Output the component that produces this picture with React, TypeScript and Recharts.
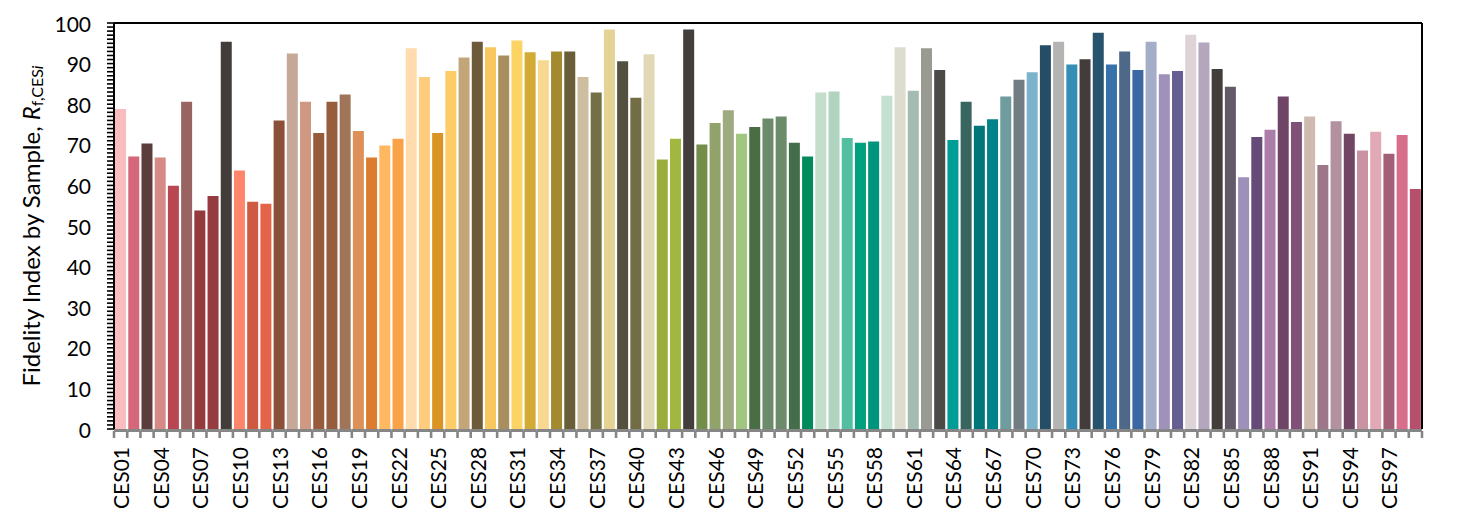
import React from "react";
import { BarChart, Bar, XAxis, YAxis, Cell, Label } from "recharts";

const categories = [
  "CES01","CES02","CES03","CES04","CES05","CES06","CES07","CES08","CES09","CES10",
  "CES11","CES12","CES13","CES14","CES15","CES16","CES17","CES18","CES19","CES20",
  "CES21","CES22","CES23","CES24","CES25","CES26","CES27","CES28","CES29","CES30",
  "CES31","CES32","CES33","CES34","CES35","CES36","CES37","CES38","CES39","CES40",
  "CES41","CES42","CES43","CES44","CES45","CES46","CES47","CES48","CES49","CES50",
  "CES51","CES52","CES53","CES54","CES55","CES56","CES57","CES58","CES59","CES60",
  "CES61","CES62","CES63","CES64","CES65","CES66","CES67","CES68","CES69","CES70",
  "CES71","CES72","CES73","CES74","CES75","CES76","CES77","CES78","CES79","CES80",
  "CES81","CES82","CES83","CES84","CES85","CES86","CES87","CES88","CES89","CES90",
  "CES91","CES92","CES93","CES94","CES95","CES96","CES97","CES98","CES99",
];

const fidelity = [
  78.8, 67.1, 70.3, 66.9, 59.9, 80.6, 53.8, 57.4, 95.4, 63.7,
  56.0, 55.5, 76.0, 92.5, 80.6, 72.9, 80.6, 82.4, 73.4, 66.9,
  69.8, 71.5, 93.8, 86.7, 72.9, 88.2, 91.5, 95.4, 94.0, 92.0,
  95.7, 92.8, 90.8, 93.0, 93.0, 86.7, 82.9, 98.4, 90.6, 81.6,
  92.3, 66.4, 71.5, 98.4, 70.1, 75.4, 78.5, 72.7, 74.4, 76.5,
  77.0, 70.5, 67.1, 82.9, 83.1, 71.7, 70.5, 70.8, 82.1, 94.0,
  83.3, 93.8, 88.4, 71.2, 80.6, 74.7, 76.3, 81.9, 86.0, 87.9,
  94.5, 95.4, 89.8, 91.1, 97.6, 89.8, 93.0, 88.4, 95.4, 87.4,
  88.2, 97.1, 95.2, 88.7, 84.3, 62.0, 71.9, 73.7, 81.9, 75.6,
  77.0, 65.0, 75.8, 72.7, 68.6, 73.2, 67.8, 72.4, 59.1,
];

const barColors = [
  "#FBBCC0","#D4677A","#5C3D3C","#D68A87","#B84752","#986360","#94393C","#963C40","#423D3A","#FF866A",
  "#CE5A42","#E4644A","#8C5038","#C6A898","#CF9883","#975A3A","#975E3D","#A07458","#DD9158","#DA7D2E",
  "#FDB861","#F9A247","#FFDBAD","#FECC7C","#DB9423","#FDCB67","#C2A67A","#6C5A38","#F9C760","#A88F5D",
  "#FCD464","#D2AB35","#F7D891","#A38A2E","#695E38","#CEBEA0","#747046","#E4D394","#545040","#736D45",
  "#E1D9B6","#9AAD3C","#A2B73F","#433E3C","#728E48","#91A26A","#9EAA80","#A1C680","#4A6E43","#6C8B6A",
  "#6B8B6A","#446D4A","#008A5D","#C3DECB","#B0D4C0","#53BFA0","#009F7E","#00947D","#C3E0D0","#DCDCCF",
  "#A3BBB1","#999B93","#4B4A47","#009C96","#396560","#00757A","#00838A","#6F9C9F","#717D83","#7DB3CA",
  "#264D66","#B4B4B3","#358EB6","#423C3A","#27536C","#3772AA","#4E6888","#3B67A2","#A5AEC8","#9F91B9",
  "#655E92","#DED4D8","#B4A6BD","#433E3A","#645968","#9D91B9","#664B78","#AC7DA8","#704466","#805079",
  "#CFBAB2","#9D7789","#B4919E","#704663","#CA93A3","#E1A8B6","#A35F76","#D66E8C","#B64F6B",
];

const yTickLabels = [0, 10, 20, 30, 40, 50, 60, 70, 80, 90, 100];
const yMinorTicks = Array.from({ length: 101 }, (_, i) => i);

const data = categories.map((name, i) => ({ name, value: fidelity[i] }));

const FONT = "Lato, 'Open Sans', sans-serif";
const AXIS_GRAY = "#868686";

function XTick(props: any) {
  const { x, y, payload } = props;
  const i = payload?.index ?? props.index ?? 0;
  const half = payload?.offset ?? 6.6;
  const showLabel = i % 3 === 0;
  return (
    <g>
      <line x1={x - half} x2={x + half} y1={y + 1.5} y2={y + 1.5} stroke={AXIS_GRAY} strokeWidth={3} />
      <line x1={x - half} x2={x - half} y1={y + 2} y2={y + 9} stroke={AXIS_GRAY} strokeWidth={2.6} />
      {i === categories.length - 1 && (
        <line x1={x + half} x2={x + half} y1={y + 2} y2={y + 9} stroke={AXIS_GRAY} strokeWidth={2.6} />
      )}
      {showLabel && (
        <text
          transform={`translate(${x},${y + 18}) rotate(-90)`}
          textAnchor="end"
          dominantBaseline="central"
          fontFamily={FONT}
          fontSize={21}
          fill="#000"
        >
          {payload.value}
        </text>
      )}
    </g>
  );
}

function YTick(props: any) {
  const { x, y, payload } = props;
  if (!yTickLabels.includes(payload.value)) return <g />;
  return (
    <text x={x} y={y} textAnchor="end" dominantBaseline="central" fontFamily={FONT} fontSize={21} fill="#000">
      {payload.value}
    </text>
  );
}

function YLabel(props: any) {
  const vb = props.viewBox || { x: 0, y: 15, width: 106, height: 406 };
  const cx = vb.x + 22;
  const cy = vb.y + vb.height / 2;
  return (
    <text
      transform={`translate(${cx},${cy}) rotate(-90)`}
      textAnchor="middle"
      dominantBaseline="central"
      fontFamily={FONT}
      fontSize={24}
      fill="#000"
    >
      Fidelity Index by Sample,{" "}
      <tspan fontStyle="italic">R</tspan>
      <tspan fontSize={16} dy={6}>f,CES</tspan>
      <tspan fontSize={16} fontStyle="italic">i</tspan>
    </text>
  );
}

export default function App() {
  return (
    <div style={{ width: 1457, height: 516, fontFamily: FONT }}>
      <BarChart
        width={1457}
        height={516}
        data={data}
        margin={{ top: 14, right: 42, bottom: 0, left: 0 }}
        barCategoryGap="8%"
      >
        <XAxis
          dataKey="name"
          type="category"
          interval={0}
          height={95}
          axisLine={false}
          tickLine={false}
          tickSize={0}
          tickMargin={0}
          tick={<XTick />}
        />
        <XAxis
          xAxisId="top"
          dataKey="name"
          orientation="top"
          height={1}
          tick={false}
          tickLine={false}
          axisLine={{ stroke: "#000", strokeWidth: 2 }}
        />
        <YAxis
          type="number"
          domain={[0, 100]}
          ticks={yMinorTicks}
          interval={0}
          width={106}
          tickSize={7}
          tickMargin={16}
          axisLine={{ stroke: "#000", strokeWidth: 2 }}
          tickLine={{ stroke: "#000", strokeWidth: 1.6 }}
          tick={<YTick />}
        >
          <Label content={<YLabel />} />
        </YAxis>
        <YAxis
          yAxisId="right"
          orientation="right"
          type="number"
          domain={[0, 100]}
          width={1}
          tick={false}
          tickLine={false}
          axisLine={{ stroke: "#000", strokeWidth: 2 }}
        />
        <Bar dataKey="value" isAnimationActive={false}>
          {data.map((d, i) => (
            <Cell key={d.name} fill={barColors[i]} />
          ))}
        </Bar>
      </BarChart>
    </div>
  );
}
